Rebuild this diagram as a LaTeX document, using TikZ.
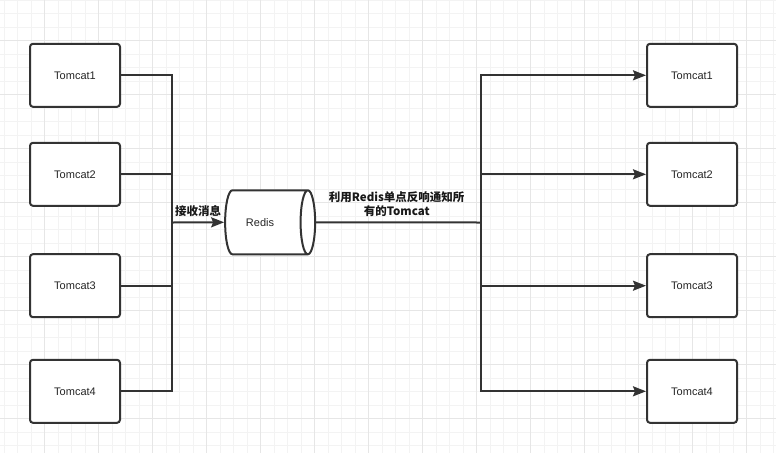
\documentclass[tikz,border=0pt]{standalone}
\usepackage{fontspec}
\setmainfont{Liberation Sans}
\newfontfamily\cjk{Noto Sans CJK SC}
\usetikzlibrary{shapes.geometric,arrows.meta}
\definecolor{mline}{RGB}{51,51,51}
\definecolor{gminor}{RGB}{243,243,243}
\definecolor{gmajor}{RGB}{230,230,230}

\tikzset{
    tomcat/.style={rectangle, draw=mline, line width=2pt, fill=white, rounded corners=3pt,
        minimum width=90pt, minimum height=63pt, font=\fontsize{11}{13}\selectfont, text=black!85},
    link/.style={draw=mline, line width=2pt},
    tip/.style={-{Stealth[length=13pt, width=10pt, inset=2pt]}},
    lbl/.style={font=\cjk\bfseries\fontsize{11.5}{14.3}\selectfont, text=black!90, align=center},
}

\begin{document}
\begin{tikzpicture}[x=1pt, y=-1pt]
    \useasboundingbox (0,0) rectangle (776,453);
    % background grid
    \foreach \i in {0,...,57} {
        \pgfmathsetmacro\gx{4+13.5*\i}
        \draw[gminor, line width=1pt] (\gx,0) -- (\gx,453);
    }
    \foreach \i in {0,...,33} {
        \pgfmathsetmacro\gy{13.5*\i}
        \draw[gminor, line width=1pt] (0,\gy) -- (776,\gy);
    }
    \foreach \i in {0,...,13} {
        \pgfmathsetmacro\gx{44.5+54*\i}
        \draw[gmajor, line width=1pt] (\gx,0) -- (\gx,453);
    }
    \foreach \i in {0,...,7} {
        \pgfmathsetmacro\gy{40.5+54*\i}
        \draw[gmajor, line width=1pt] (0,\gy) -- (776,\gy);
    }

    \node[tomcat] (L1) at (75, 75.3)  {Tomcat1};
    \node[tomcat] (L2) at (75, 174.3) {Tomcat2};
    \node[tomcat] (L3) at (75, 285.7) {Tomcat3};
    \node[tomcat] (L4) at (75, 391.3) {Tomcat4};

    \node[tomcat] (R1) at (692, 75.3)  {Tomcat1};
    \node[tomcat] (R2) at (692, 174.3) {Tomcat2};
    \node[tomcat] (R3) at (692, 285.7) {Tomcat3};
    \node[tomcat] (R4) at (692, 391.3) {Tomcat4};

    \node[cylinder, draw=mline, line width=2pt, fill=white, shape aspect=1.8,
        minimum height=90pt, minimum width=64pt, inner sep=0pt,
        font=\fontsize{11}{13}\selectfont, text=black!85] (redis) at (266, 222.3) {Redis\hspace*{12pt}};

    \coordinate (jl) at (172.3, 222.5);
    \coordinate (jr) at (480.7, 222.5);

    \draw[link] (L1.east) -| (jl);
    \draw[link] (L2.east) -| (jl);
    \draw[link] (L3.east) -| (jl);
    \draw[link] (L4.east) -| (jl);
    \draw[link, tip] (jl) -- (redis.west) node[lbl, pos=.5, above=1pt] {接收消息};
    \draw[link] (redis.east) -- (jr);
    \draw[link, tip] (jr) |- (R1.west);
    \draw[link, tip] (jr) |- (R2.west);
    \draw[link, tip] (jr) |- (R3.west);
    \draw[link, tip] (jr) |- (R4.west);

    \node[lbl] (note) at (396.7, 204) {利用Redis单点反响通知所\\有的Tomcat};
\end{tikzpicture}
\end{document}
